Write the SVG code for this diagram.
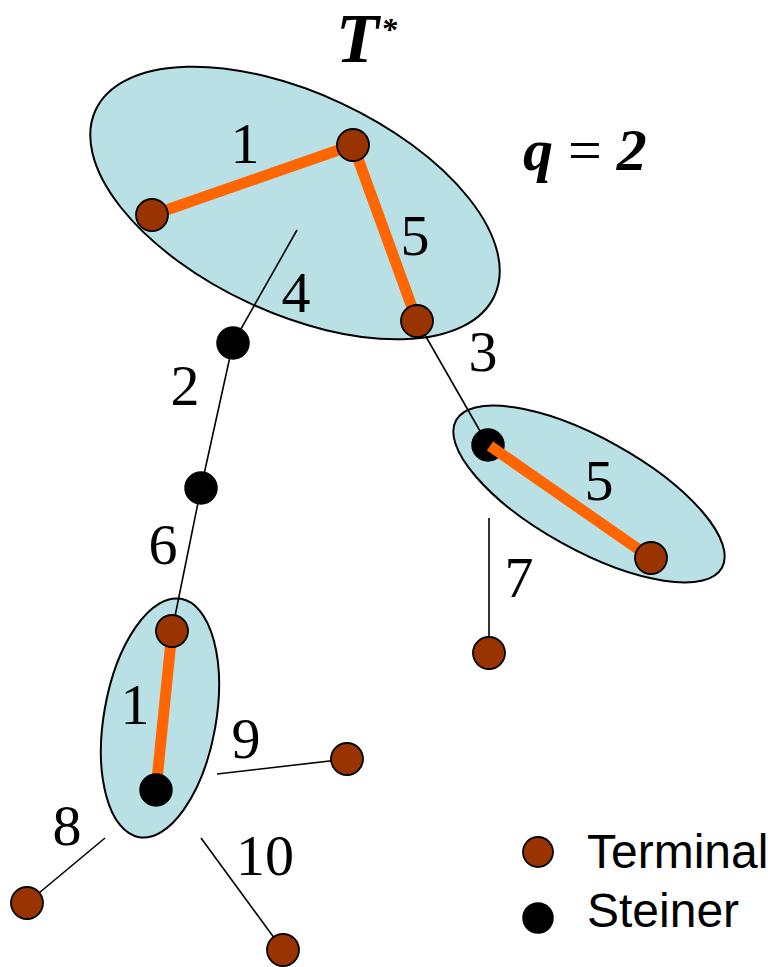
<svg xmlns="http://www.w3.org/2000/svg" width="775" height="967" viewBox="0 0 775 967">
<style>
.cl{fill:#B9E0E4;stroke:#000;stroke-width:2}
.e{stroke:#000;stroke-width:1.6;fill:none}
.t{stroke:#FF6600;stroke-width:11;stroke-linecap:butt}
.term{fill:#993300;stroke:#000;stroke-width:1.8}
.stn{fill:#000;stroke:#000;stroke-width:1.5}
.w{font-family:"Liberation Serif","Times New Roman",serif;font-size:58px;fill:#000;text-anchor:middle}
.lg{font-family:"Liberation Sans",Arial,sans-serif;font-size:48px;fill:#000}
.bi{font-family:"Liberation Serif","Times New Roman",serif;font-weight:bold;font-style:italic;fill:#000}
</style>
<rect width="775" height="967" fill="#fff"/>
<g id="clusters">
<ellipse id="cluster1" class="cl" cx="295" cy="203" rx="220" ry="110" transform="rotate(25 295 203)"/>
<ellipse id="cluster2" class="cl" cx="589" cy="494" rx="152" ry="56" transform="rotate(29 589 494)"/>
<ellipse id="cluster3" class="cl" cx="160" cy="718" rx="56" ry="121" transform="rotate(10 160 718)"/>
</g>
<g id="nD"><circle class="stn" cx="488" cy="445" r="16"/></g>
<g id="connectors">
<line class="e" x1="297" y1="230" x2="233" y2="343"/>
<line class="e" x1="233" y1="343" x2="201" y2="488"/>
<line class="e" x1="201" y1="488" x2="172" y2="631"/>
<line class="e" x1="417" y1="321" x2="484" y2="438"/>
<line class="e" x1="489" y1="518" x2="489" y2="653"/>
<line class="e" x1="217" y1="774" x2="347" y2="759"/>
<line class="e" x1="105" y1="838" x2="27" y2="903"/>
<line class="e" x1="201" y1="838" x2="283" y2="950"/>
<line class="t" x1="152" y1="215" x2="353" y2="145"/>
<line class="t" x1="353" y1="145" x2="417" y2="321"/>
<line class="t" x1="172" y1="631" x2="156" y2="790"/>
<line class="t" x1="490" y1="446" x2="651" y2="558"/>
</g>
<g id="nA"><circle class="term" cx="152" cy="215" r="16"/></g>
<g id="nB"><circle class="term" cx="353" cy="145" r="16"/></g>
<g id="nC"><circle class="term" cx="417" cy="321" r="16"/></g>
<g id="s1"><circle class="stn" cx="233" cy="343" r="16"/></g>
<g id="s2"><circle class="stn" cx="201" cy="488" r="16"/></g>
<g id="nE"><circle class="term" cx="651" cy="558" r="16"/></g>
<g id="nF"><circle class="term" cx="489" cy="653" r="16"/></g>
<g id="nG"><circle class="term" cx="172" cy="631" r="16"/></g>
<g id="nH"><circle class="stn" cx="156" cy="790" r="16"/></g>
<g id="nI"><circle class="term" cx="347" cy="759" r="16"/></g>
<g id="nJ"><circle class="term" cx="27" cy="903" r="16"/></g>
<g id="nK"><circle class="term" cx="283" cy="950" r="16"/></g>
<g id="labels">
<text class="w" x="245" y="163">1</text>
<text class="w" x="415" y="255">5</text>
<text class="w" x="296" y="312">4</text>
<text class="w" x="483" y="371">3</text>
<text class="w" x="185" y="405">2</text>
<text class="w" x="163" y="564">6</text>
<text class="w" x="599" y="500">5</text>
<text class="w" x="519" y="597">7</text>
<text class="w" x="135" y="724">1</text>
<text class="w" x="246" y="758">9</text>
<text class="w" x="67" y="845">8</text>
<text class="w" x="265" y="875">10</text>
<text class="bi" x="336" y="62" font-size="70">T</text>
<text class="bi" x="381" y="40" font-size="32" font-style="normal" font-weight="normal">*</text>
<text class="bi" x="523" y="170" font-size="60">q <tspan font-style="normal" font-weight="normal">=</tspan> 2</text>
</g>
<g id="legend">
<circle class="term" cx="538" cy="852" r="15"/>
<text class="lg" x="587" y="868">Terminal</text>
<circle class="stn" cx="538" cy="918" r="15"/>
<text class="lg" x="587" y="927">Steiner</text>
</g>
</svg>
